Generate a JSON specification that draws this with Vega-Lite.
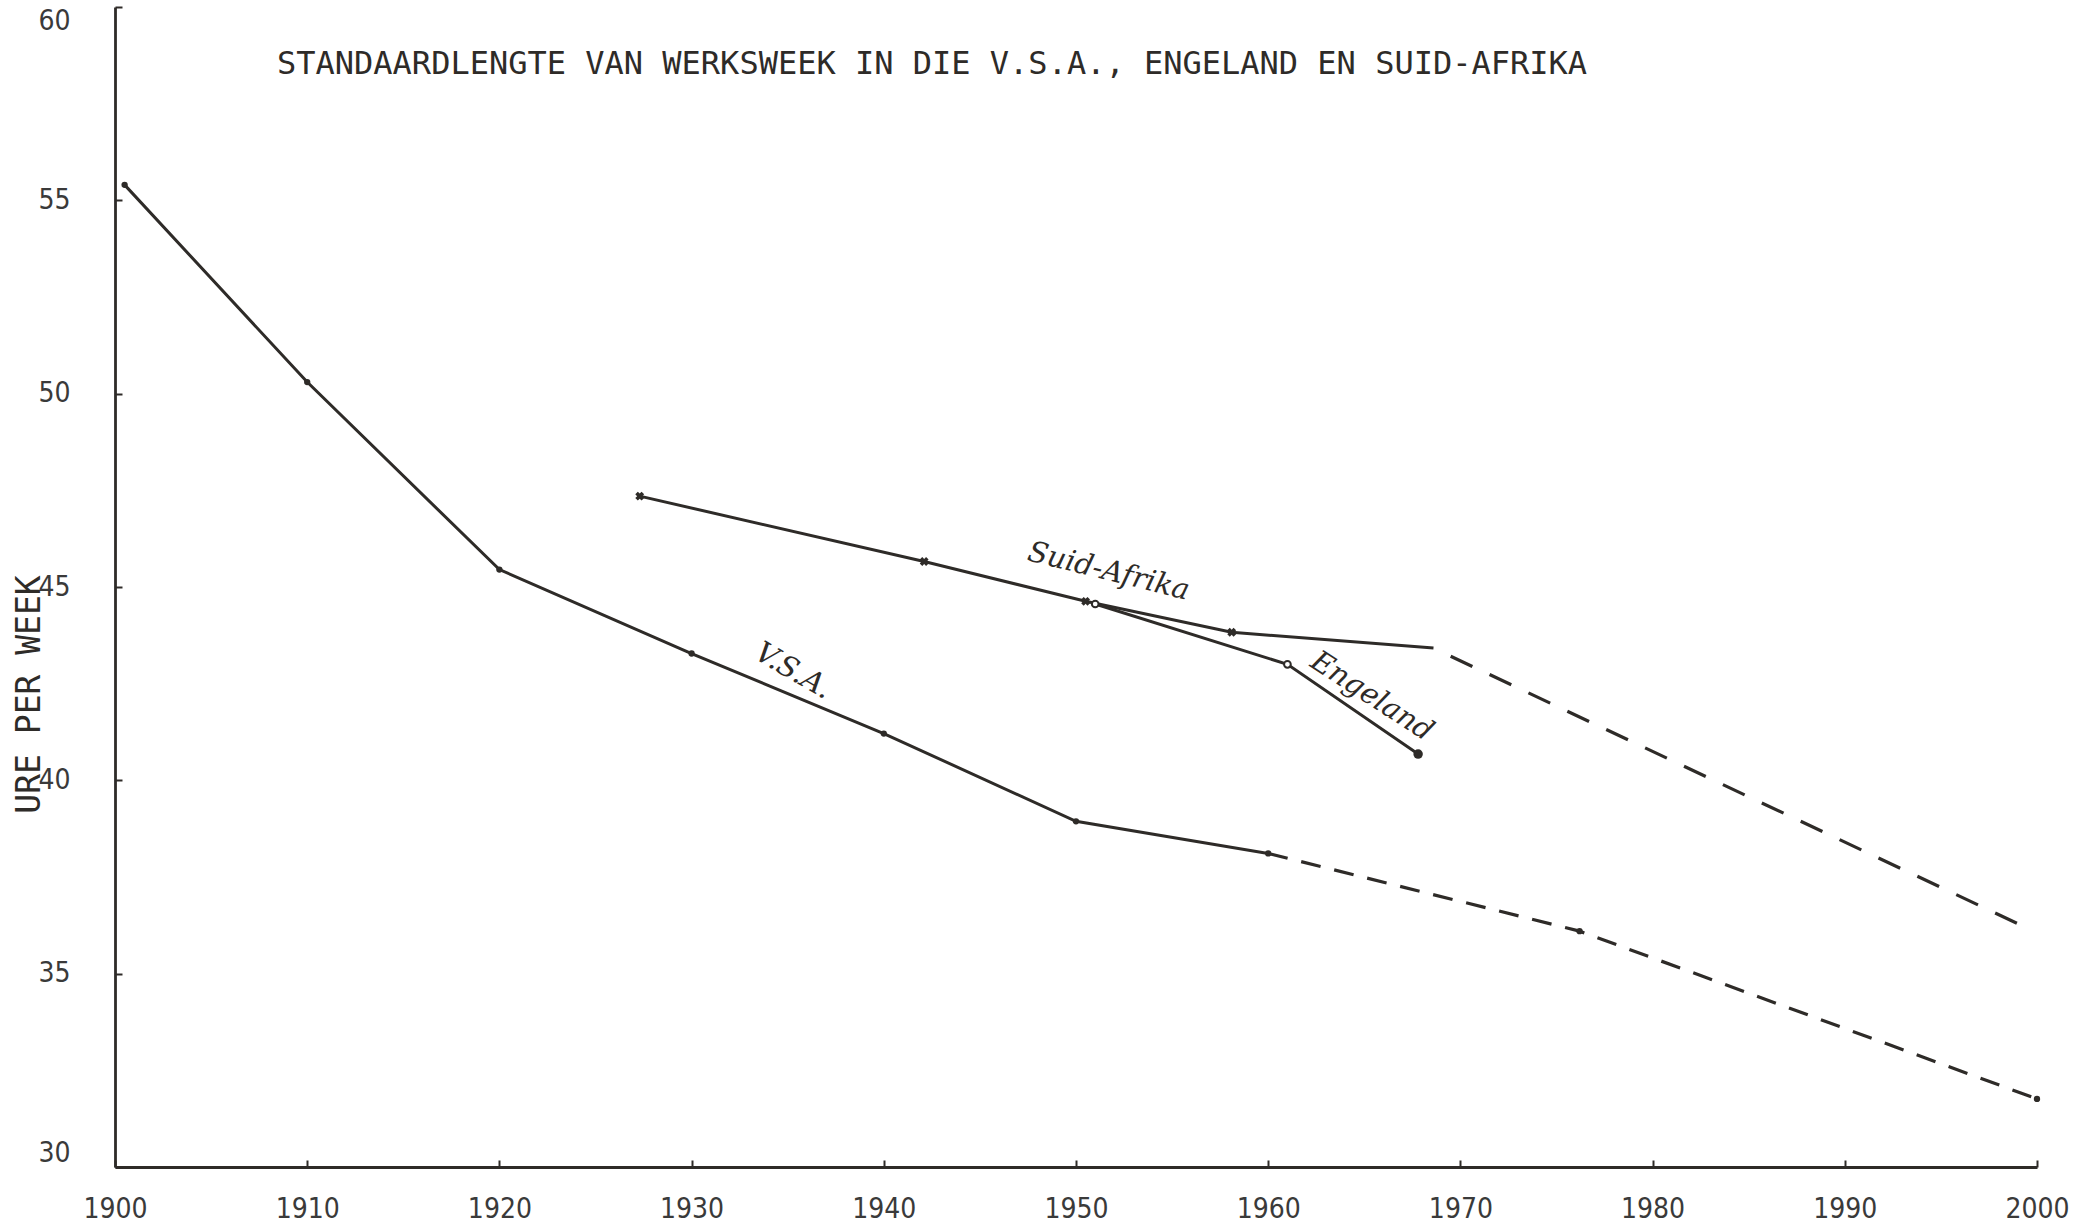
{
  "$schema": "https://vega.github.io/schema/vega-lite/v6.json",
  "width": 1922,
  "height": 1160,
  "autosize": {"type": "none"},
  "padding": {"left": 115, "top": 7, "right": 54, "bottom": 59},
  "background": "#ffffff",
  "config": {"view": {"stroke": null}},
  "title": {
    "text": "STANDAARDLENGTE VAN WERKSWEEK IN DIE V.S.A., ENGELAND EN SUID-AFRIKA",
    "anchor": "start",
    "frame": "group",
    "dx": 162,
    "dy": 34,
    "offset": -56,
    "baseline": "middle",
    "font": "DejaVu Sans Mono",
    "fontSize": 32,
    "fontWeight": "normal",
    "color": "#2e2b28"
  },
  "datasets": {
    "series": [
      {"series": "V.S.A.", "year": 1900.5, "hours": 55.4, "status": "recorded", "marked": true},
      {"series": "V.S.A.", "year": 1910, "hours": 50.3, "status": "recorded", "marked": true},
      {"series": "V.S.A.", "year": 1920, "hours": 45.45, "status": "recorded", "marked": true},
      {"series": "V.S.A.", "year": 1930, "hours": 43.28, "status": "recorded", "marked": true},
      {"series": "V.S.A.", "year": 1940, "hours": 41.21, "status": "recorded", "marked": true},
      {"series": "V.S.A.", "year": 1950, "hours": 38.94, "status": "recorded", "marked": true},
      {"series": "V.S.A.", "year": 1960, "hours": 38.11, "status": "recorded", "marked": true},
      {"series": "V.S.A.", "year": 1960, "hours": 38.11, "status": "projected", "marked": false},
      {"series": "V.S.A.", "year": 1976.2, "hours": 36.1, "status": "projected", "marked": true},
      {"series": "V.S.A.", "year": 2000, "hours": 31.76, "status": "projected", "marked": true},
      {"series": "Suid-Afrika", "year": 1927.3, "hours": 47.35, "status": "recorded", "marked": true},
      {"series": "Suid-Afrika", "year": 1942.1, "hours": 45.66, "status": "recorded", "marked": true},
      {"series": "Suid-Afrika", "year": 1950.5, "hours": 44.63, "status": "recorded", "marked": true},
      {"series": "Suid-Afrika", "year": 1958.1, "hours": 43.83, "status": "recorded", "marked": true},
      {"series": "Suid-Afrika", "year": 1968.6, "hours": 43.42, "status": "recorded", "marked": false},
      {"series": "Suid-Afrika", "year": 1968.6, "hours": 43.42, "status": "projected", "marked": false},
      {"series": "Suid-Afrika", "year": 1999.4, "hours": 36.2, "status": "projected", "marked": false},
      {"series": "Engeland", "year": 1951.0, "hours": 44.56, "status": "recorded", "marked": true},
      {"series": "Engeland", "year": 1961.0, "hours": 43.0, "status": "recorded", "marked": true},
      {"series": "Engeland", "year": 1967.8, "hours": 40.68, "status": "recorded", "marked": true}
    ],
    "labels": [
      {"label": "Suid-Afrika", "year": 1951.7, "hours": 45.41},
      {"label": "V.S.A.", "year": 1935.3, "hours": 42.83},
      {"label": "Engeland", "year": 1965.4, "hours": 42.18}
    ]
  },
  "data": {"name": "series"},
  "encoding": {
    "x": {
      "field": "year",
      "type": "quantitative",
      "scale": {"domain": [1900, 2000], "nice": false, "zero": false},
      "axis": {
        "title": null,
        "values": [1900, 1910, 1920, 1930, 1940, 1950, 1960, 1970, 1980, 1990, 2000],
        "format": "d",
        "grid": false,
        "domainColor": "#2e2b28",
        "domainWidth": 2.8,
        "tickColor": "#2e2b28",
        "tickWidth": 2,
        "tickSize": -7,
        "labelFont": "Liberation Sans Narrow, DejaVu Sans Condensed, sans-serif",
        "labelFontSize": 28,
        "labelColor": "#3a3a3a",
        "labelPadding": 35,
        "labelFlush": false,
        "labelOverlap": false,
        "labelBound": false
      }
    },
    "y": {
      "field": "hours",
      "type": "quantitative",
      "scale": {"domain": [30, 60], "nice": false, "zero": false},
      "axis": {
        "title": "URE PER WEEK",
        "titleFont": "DejaVu Sans Mono",
        "titleFontSize": 33,
        "titleFontWeight": "normal",
        "titleColor": "#2e2b28",
        "titleAngle": -90,
        "titleAlign": "center",
        "titleBaseline": "middle",
        "titleX": -86,
        "titleY": 687,
        "values": [30, 35, 40, 45, 50, 55, 60],
        "grid": false,
        "domainColor": "#2e2b28",
        "domainWidth": 2.8,
        "tickColor": "#2e2b28",
        "tickWidth": 2,
        "tickSize": -7,
        "labelFont": "Liberation Sans Narrow, DejaVu Sans Condensed, sans-serif",
        "labelFontSize": 28,
        "labelColor": "#3a3a3a",
        "labelPadding": 52,
        "labelFlush": true,
        "labelFlushOffset": 0,
        "labelOverlap": false,
        "labelBound": false
      }
    }
  },
  "layer": [
    {
      "transform": [{"filter": "datum.status == 'recorded'"}],
      "mark": {"type": "line", "color": "#2e2b28", "strokeWidth": 3},
      "encoding": {"detail": {"field": "series"}}
    },
    {
      "transform": [{"filter": "datum.status == 'projected' && datum.series == 'V.S.A.'"}],
      "mark": {"type": "line", "color": "#2e2b28", "strokeWidth": 3.2, "strokeDash": [20, 14]},
      "encoding": {"detail": {"field": "series"}}
    },
    {
      "transform": [{"filter": "datum.status == 'projected' && datum.series == 'Suid-Afrika'"}],
      "mark": {"type": "line", "color": "#2e2b28", "strokeWidth": 3.2, "strokeDash": [24, 19], "strokeDashOffset": 24},
      "encoding": {"detail": {"field": "series"}}
    },
    {
      "transform": [{"filter": "datum.series == 'V.S.A.' && datum.marked"}],
      "mark": {"type": "point", "shape": "circle", "filled": true, "size": 40, "color": "#2e2b28", "opacity": 1}
    },
    {
      "transform": [{"filter": "datum.series == 'Suid-Afrika' && datum.marked"}],
      "mark": {"type": "point", "shape": "cross", "angle": 45, "filled": true, "size": 80, "color": "#2e2b28", "opacity": 1}
    },
    {
      "transform": [{"filter": "datum.series == 'Engeland' && datum.year < 1965"}],
      "mark": {"type": "point", "shape": "circle", "filled": false, "size": 45, "strokeWidth": 2, "color": "#2e2b28", "fill": "#ffffff", "opacity": 1}
    },
    {
      "transform": [{"filter": "datum.series == 'Engeland' && datum.year > 1965"}],
      "mark": {"type": "point", "shape": "circle", "filled": true, "size": 90, "color": "#2e2b28", "opacity": 1}
    },
    {
      "data": {"name": "labels"},
      "transform": [{"filter": "datum.label == 'Suid-Afrika'"}],
      "mark": {"type": "text", "angle": 14, "font": "DejaVu Serif", "fontStyle": "italic", "fontSize": 29, "color": "#2e2b28", "align": "center", "baseline": "middle"},
      "encoding": {"text": {"field": "label"}}
    },
    {
      "data": {"name": "labels"},
      "transform": [{"filter": "datum.label == 'V.S.A.'"}],
      "mark": {"type": "text", "angle": 30, "font": "DejaVu Serif", "fontStyle": "italic", "fontSize": 29, "color": "#2e2b28", "align": "center", "baseline": "middle"},
      "encoding": {"text": {"field": "label"}}
    },
    {
      "data": {"name": "labels"},
      "transform": [{"filter": "datum.label == 'Engeland'"}],
      "mark": {"type": "text", "angle": 33, "font": "DejaVu Serif", "fontStyle": "italic", "fontSize": 29, "color": "#2e2b28", "align": "center", "baseline": "middle"},
      "encoding": {"text": {"field": "label"}}
    }
  ]
}
